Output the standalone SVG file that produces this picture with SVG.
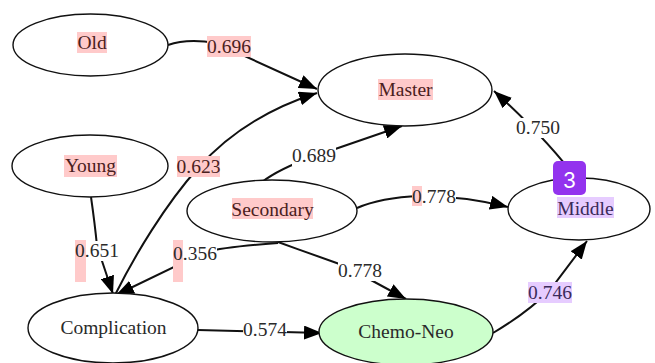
<svg xmlns="http://www.w3.org/2000/svg" width="655" height="363" viewBox="0 0 655 363">
<style>
.node ellipse{fill:#fff;stroke:#111;stroke-width:1.4}
.t{font-family:"Liberation Serif","Times New Roman",serif;font-size:19.5px;fill:#2a2a2a;text-anchor:middle}
.tp{fill:#4a2020}
.tv{fill:#3a2a5a}
.e{fill:none;stroke:#111;stroke-width:2}
.pink{fill:#ffcaca}
.lav{fill:#e6ccff}
.wb{fill:#fff}
</style>
<defs>
<marker id="ah" markerWidth="20" markerHeight="14" refX="18" refY="7" orient="auto" markerUnits="userSpaceOnUse">
<path d="M0,0 L18,7 L0,14 Z" fill="#000"/>
</marker>
</defs>
<g id="connectors">
<path class="e" d="M168,45 C182,40 198,40 216,43 L317,89" marker-end="url(#ah)"/>
<path class="e" d="M115,295 C135,255 165,205 198,168 C230,132 270,108 317,93" marker-end="url(#ah)"/>
<path class="e" d="M91,197 Q95,225 97,246 L113,294" marker-end="url(#ah)"/>
<path class="e" d="M278,243 C250,245 225,247 205,252 L116,295" marker-end="url(#ah)"/>
<path class="e" d="M262,182 C275,172 290,165 312,157 L402,126" marker-end="url(#ah)"/>
<path class="e" d="M357,208 C375,200 395,197 420,196 C450,196 480,200 508,207" marker-end="url(#ah)"/>
<path class="e" d="M278,242 C300,250 320,257 345,266 L406,299" marker-end="url(#ah)"/>
<path class="e" d="M198,330 L322,333" marker-end="url(#ah)"/>
<path class="e" d="M493,333 C515,320 535,305 550,290 L587,241" marker-end="url(#ah)"/>
<path class="e" d="M578,181 Q548,140 494,91" marker-end="url(#ah)"/>
<g id="edge-labels">
<rect class="pink" x="207" y="36" width="44" height="21"/>
<text class="t tp" x="229" y="53">0.696</text>
<rect class="pink" x="177" y="156" width="43" height="21"/>
<text class="t tp" x="198.5" y="173">0.623</text>
<rect class="wb" x="75" y="241" width="44" height="20"/>
<rect class="pink" x="75" y="240" width="11" height="42"/>
<text class="t" x="97" y="257">0.651</text>
<rect class="wb" x="173" y="244" width="44" height="20"/>
<rect class="pink" x="173" y="240" width="10" height="42"/>
<text class="t" x="195" y="260">0.356</text>
<rect class="wb" x="292" y="146" width="44" height="20"/>
<text class="t" x="314" y="162">0.689</text>
<rect class="wb" x="412" y="187" width="44" height="20"/>
<rect class="pink" x="412" y="186" width="10" height="20"/>
<text class="t" x="434" y="203">0.778</text>
<rect class="wb" x="338" y="261" width="44" height="20"/>
<text class="t" x="360" y="277">0.778</text>
<rect class="wb" x="243" y="320" width="44" height="20"/>
<text class="t" x="265" y="336">0.574</text>
<rect class="lav" x="528" y="282" width="44" height="21"/>
<text class="t tv" x="550" y="299">0.746</text>
<rect class="wb" x="516" y="118" width="44" height="20"/>
<text class="t" x="538" y="134">0.750</text>
</g>
</g>
<g id="node-old" class="node">
<ellipse cx="90.5" cy="45" rx="77.5" ry="31"/>
<rect class="pink" x="77" y="32" width="30" height="21"/>
<text class="t tp" x="92" y="49">Old</text>
</g>
<g id="node-young" class="node">
<ellipse cx="90" cy="166" rx="78" ry="31"/>
<rect class="pink" x="64" y="155" width="53" height="22"/>
<text class="t tp" x="90.5" y="172">Young</text>
</g>
<g id="node-master" class="node">
<ellipse cx="405" cy="90" rx="87" ry="36"/>
<rect class="pink" x="378" y="79" width="55" height="21"/>
<text class="t tp" x="405.5" y="96">Master</text>
</g>
<g id="node-secondary" class="node">
<ellipse cx="272" cy="211" rx="85" ry="31"/>
<rect class="pink" x="232" y="198" width="81" height="21"/>
<text class="t tp" x="272.5" y="216">Secondary</text>
</g>
<g id="node-middle" class="node">
<ellipse cx="579" cy="209" rx="71" ry="31"/>
<rect class="lav" x="557" y="197" width="57" height="21"/>
<text class="t tv" x="585.5" y="215">Middle</text>
</g>
<g id="node-complication" class="node">
<ellipse cx="113" cy="328" rx="85" ry="35"/>
<text class="t" x="113.5" y="334">Complication</text>
</g>
<g id="node-chemoneo" class="node">
<ellipse cx="406" cy="332" rx="87" ry="33" style="fill:#ccffcc"/>
<text class="t" x="406" y="338">Chemo-Neo</text>
</g>
<g id="badge">
<rect x="553" y="161" width="33" height="34" rx="5" fill="#9333ee"/>
<text x="569.5" y="188" font-family="Inter,'Noto Sans',sans-serif" font-size="21" fill="#fff" text-anchor="middle">3</text>
</g>
</svg>
